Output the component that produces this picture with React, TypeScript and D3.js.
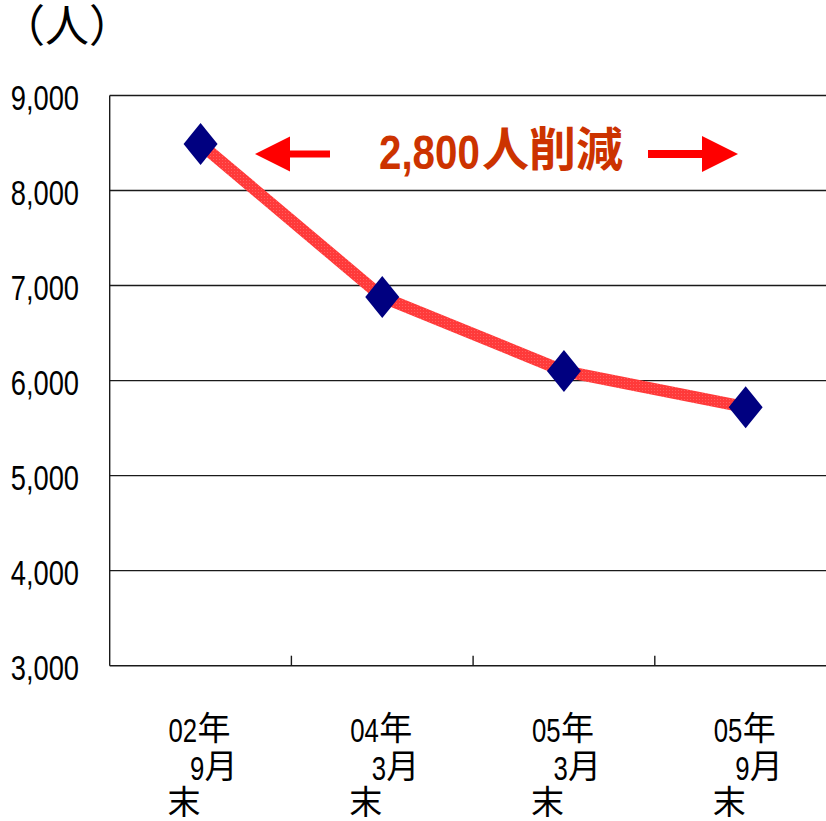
import React from "react";
import * as d3 from "d3";

// 従業員数の推移（各期末）
const years = ["02", "04", "05", "05"];
const months = ["9", "3", "3", "9"];
const headcount = [8490, 6880, 6100, 5720];
const yTicks = [3000, 4000, 5000, 6000, 7000, 8000, 9000];
const unitLabel = "（人）";
const reductionNumber = "2,800";
const reductionText = "人削減";

const W = 826;
const H = 821;
const plot = { left: 109.7, right: 836.5, top: 95.5, bottom: 665.7 };

const LATIN = "'Liberation Sans', Arial, sans-serif";
const CJK = "'Noto Sans CJK JP', 'Noto Sans CJK SC', sans-serif";
const SQUEEZE = 0.78;

export default function App() {
  const keys = years.map((y, i) => `${y}-${months[i]}-${i}`);
  const x = d3.scaleBand<string>().domain(keys).range([plot.left, plot.right]);
  const y = d3.scaleLinear().domain([3000, 9000]).range([plot.bottom, plot.top]);
  const cx = (i: number) => (x(keys[i]) as number) + x.bandwidth() / 2;

  const line = d3
    .line<number>()
    .x((_, i) => cx(i))
    .y((d) => y(d));

  const fmt = d3.format(",");
  const diamond = "M0,-21L17,0L0,21L-17,0Z";
  const arrowY = 154;

  return (
    <svg
      width={W}
      height={H}
      style={{ position: "absolute", left: 0, top: 0, background: "#fff" }}
    >
      <defs>
        <pattern id="hatch" width="3" height="3" patternUnits="userSpaceOnUse">
          <rect width="3" height="3" fill="#ff3a3a" />
          <rect width="1" height="1" fill="#ff6060" />
        </pattern>
      </defs>

      {/* unit */}
      <text x={1} y={42} fontFamily={CJK} fontSize={44} fill="#000">
        {unitLabel}
      </text>

      {/* gridlines */}
      {yTicks.map((t) => (
        <line
          key={t}
          x1={plot.left}
          x2={plot.right}
          y1={y(t)}
          y2={y(t)}
          stroke="#1a1a1a"
          strokeWidth={1.4}
        />
      ))}

      {/* y axis */}
      <line
        x1={plot.left}
        x2={plot.left}
        y1={plot.top}
        y2={plot.bottom}
        stroke="#1a1a1a"
        strokeWidth={1.4}
      />
      {yTicks.map((t) => (
        <text
          key={t}
          transform={`translate(79,${y(t) + 14.5}) scale(${SQUEEZE},1)`}
          textAnchor="end"
          fontFamily={LATIN}
          fontSize={35}
          fill="#000"
        >
          {fmt(t)}
        </text>
      ))}

      {/* x ticks between categories */}
      {keys.slice(1).map((k) => (
        <line
          key={k}
          x1={x(k) as number}
          x2={x(k) as number}
          y1={plot.bottom - 10}
          y2={plot.bottom}
          stroke="#1a1a1a"
          strokeWidth={1.4}
        />
      ))}

      {/* category labels */}
      {keys.map((k, i) => {
        const c = cx(i);
        return (
          <g key={k} fill="#000">
            <text
              transform={`translate(${c - 32},742) scale(${SQUEEZE},1)`}
              fontFamily={LATIN}
              fontSize={33}
            >
              {years[i]}
            </text>
            <text x={c - 3} y={740} fontFamily={CJK} fontSize={33}>
              年
            </text>
            <text
              transform={`translate(${c - 10.5},780) scale(${SQUEEZE},1)`}
              fontFamily={LATIN}
              fontSize={33}
            >
              {months[i]}
            </text>
            <text x={c + 4} y={778} fontFamily={CJK} fontSize={33}>
              月
            </text>
            <text x={c - 33} y={814} fontFamily={CJK} fontSize={33}>
              末
            </text>
          </g>
        );
      })}

      {/* series */}
      <path
        d={line(headcount) ?? ""}
        fill="none"
        stroke="url(#hatch)"
        strokeWidth={12}
        strokeLinejoin="round"
      />
      {headcount.map((v, i) => (
        <path
          key={i}
          d={diamond}
          transform={`translate(${cx(i)},${y(v)})`}
          fill="#000080"
        />
      ))}

      {/* reduction annotation */}
      <path
        d={`M255,${arrowY}L290,${arrowY - 17.5}L290,${arrowY - 3.5}L330,${arrowY - 3.5}L330,${arrowY + 3.5}L290,${arrowY + 3.5}L290,${arrowY + 17.5}Z`}
        fill="#ff0000"
      />
      <path
        d={`M738,${arrowY}L702,${arrowY - 18}L702,${arrowY - 4}L648,${arrowY - 4}L648,${arrowY + 4}L702,${arrowY + 4}L702,${arrowY + 18}Z`}
        fill="#ff0000"
      />
      <text
        transform={`translate(379,169) scale(0.84,1)`}
        fontFamily={LATIN}
        fontWeight="bold"
        fontSize={48}
        fill="#cc3300"
      >
        {reductionNumber}
      </text>
      <text x={482} y={166} fontFamily={CJK} fontWeight="bold" fontSize={47} fill="#cc3300">
        {reductionText}
      </text>
    </svg>
  );
}
